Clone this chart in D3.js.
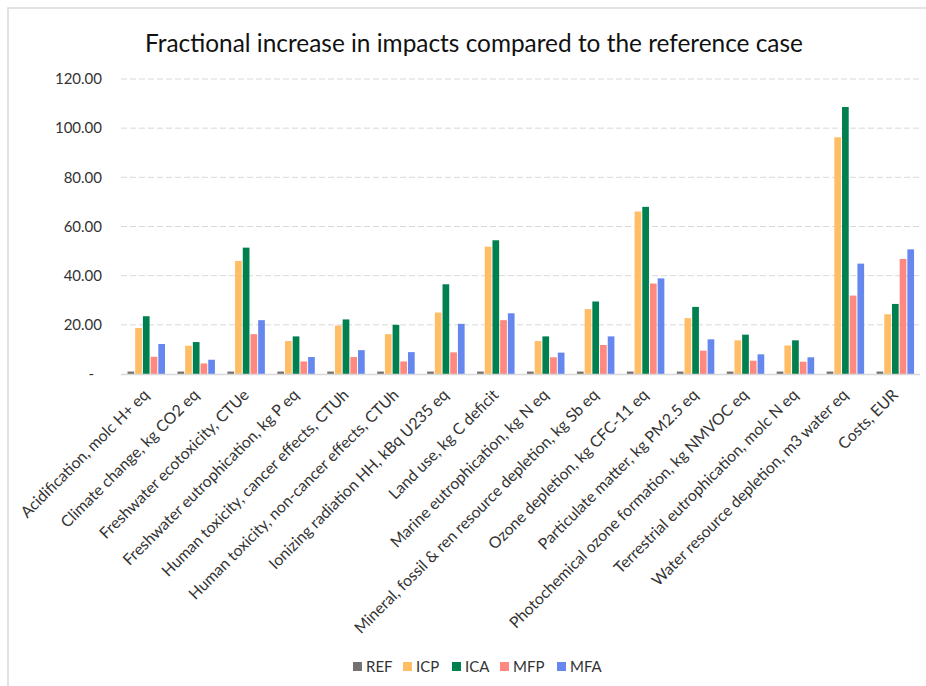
<!DOCTYPE html>
<html>
<head>
<meta charset="utf-8">
<script src="https://cdn.jsdelivr.net/npm/d3@7"></script>
<style>
	body { margin: 0; background: #fff; }
	text { font-family: Lato, "Open Sans", sans-serif; fill: #404040; }
</style>
</head>
<body>
<div id="chart"></div>
<script>

///////////////////////////////////////////////////////////////////////////
//////////////////////////////// Data /////////////////////////////////////
///////////////////////////////////////////////////////////////////////////

var categories = [
	"Acidification, molc H+ eq",
	"Climate change, kg CO2 eq",
	"Freshwater ecotoxicity, CTUe",
	"Freshwater eutrophication, kg P eq",
	"Human toxicity, cancer effects, CTUh",
	"Human toxicity, non-cancer effects, CTUh",
	"Ionizing radiation HH, kBq U235 eq",
	"Land use, kg C deficit",
	"Marine eutrophication, kg N eq",
	"Mineral, fossil & ren resource depletion, kg Sb eq",
	"Ozone depletion, kg CFC-11 eq",
	"Particulate matter, kg PM2.5 eq",
	"Photochemical ozone formation, kg NMVOC eq",
	"Terrestrial eutrophication, molc N eq",
	"Water resource depletion, m3 water eq",
	"Costs, EUR"
];

var seriesNames = ["REF", "ICP", "ICA", "MFP", "MFA"];

var REF = [1, 1, 1, 1, 1, 1, 1, 1, 1, 1, 1, 1, 1, 1, 1, 1];
var ICP = [18.7, 11.5, 46.0, 13.4, 19.7, 16.2, 25.0, 51.8, 13.4, 26.4, 66.1, 22.7, 13.7, 11.6, 96.3, 24.3];
var ICA = [23.5, 13.0, 51.4, 15.3, 22.2, 20.0, 36.5, 54.4, 15.3, 29.5, 68.0, 27.3, 16.0, 13.7, 108.6, 28.5];
var MFP = [7.0, 4.3, 16.2, 5.1, 6.9, 5.1, 8.8, 21.9, 6.8, 11.8, 36.8, 9.5, 5.4, 5.0, 31.9, 46.8];
var MFA = [12.2, 5.8, 21.9, 6.9, 9.7, 8.9, 20.4, 24.7, 8.7, 15.3, 38.9, 14.1, 8.0, 6.8, 44.9, 50.7];

var yTicks = [0, 20, 40, 60, 80, 100, 120];

var colors = ["#767171", "#ffbd66", "#00804f", "#ff8880", "#6688ee"];

var seriesValues = [REF, ICP, ICA, MFP, MFA];

///////////////////////////////////////////////////////////////////////////
//////////////////////////// Set up the svg ///////////////////////////////
///////////////////////////////////////////////////////////////////////////

var W = 926, H = 686;

var svg = d3.select("#chart").append("svg")
	.attr("width", W)
	.attr("height", H);

//Chart frame (runs off the right and bottom of the picture)
svg.append("rect")
	.attr("x", 8)
	.attr("y", 8)
	.attr("width", 940)
	.attr("height", 700)
	.style("fill", "#fff")
	.style("stroke", "#d9d9d9")
	.style("stroke-width", 1.5);

var plot = { left: 121, right: 920, top: 79, bottom: 374 };

var x0 = d3.scaleBand()
	.domain(categories)
	.range([plot.left, plot.right])
	.padding(0);

var x1 = d3.scaleBand()
	.domain(seriesNames)
	.range([6.5, 44])
	.paddingInner(0.13);

var y = d3.scaleLinear()
	.domain([0, 120])
	.range([plot.bottom, plot.top]);

///////////////////////////////////////////////////////////////////////////
//////////////////////////////// Title ////////////////////////////////////
///////////////////////////////////////////////////////////////////////////

svg.append("text")
	.attr("x", 474)
	.attr("y", 52)
	.style("text-anchor", "middle")
	.style("font-size", "24.4px")
	.style("fill", "#111")
	.text("Fractional increase in impacts compared to the reference case");

///////////////////////////////////////////////////////////////////////////
//////////////////////////////// Axes /////////////////////////////////////
///////////////////////////////////////////////////////////////////////////

//Gridlines
svg.append("g")
	.selectAll("line")
	.data(yTicks.filter(function(d) { return d > 0; }))
	.enter().append("line")
	.attr("x1", plot.left)
	.attr("x2", plot.right)
	.attr("y1", function(d) { return y(d); })
	.attr("y2", function(d) { return y(d); })
	.style("stroke", "#d9d9d9")
	.style("stroke-width", 1)
	.style("stroke-dasharray", "6,3");

//Y tick labels (accounting format: zero shown as a dash)
svg.append("g")
	.selectAll("text")
	.data(yTicks)
	.enter().append("text")
	.attr("x", function(d) { return d === 0 ? 94 : 102; })
	.attr("y", function(d) { return y(d); })
	.attr("dy", "0.35em")
	.style("text-anchor", "end")
	.style("font-size", "15px")
	.style("fill", "#333")
	.text(function(d) { return d === 0 ? "-" : d3.format(".2f")(d); });

///////////////////////////////////////////////////////////////////////////
//////////////////////////////// Bars /////////////////////////////////////
///////////////////////////////////////////////////////////////////////////

var groups = svg.append("g")
	.selectAll("g")
	.data(categories)
	.enter().append("g")
	.attr("transform", function(d) { return "translate(" + x0(d) + ",0)"; });

groups.selectAll("rect")
	.data(function(d, i) {
		return seriesNames.map(function(s, j) { return { series: s, value: seriesValues[j][i], j: j }; });
	})
	.enter().append("rect")
	.attr("x", function(d) { return x1(d.series); })
	.attr("width", x1.bandwidth())
	.attr("y", function(d) { return y(d.value); })
	.attr("height", function(d) { return y(0) - y(d.value); })
	.style("fill", function(d) { return colors[d.j]; });

//Baseline
svg.append("line")
	.attr("x1", plot.left)
	.attr("x2", plot.right)
	.attr("y1", y(0) + 0.5)
	.attr("y2", y(0) + 0.5)
	.style("stroke", "#d9d9d9")
	.style("stroke-width", 1.5);

//Category labels, rotated
svg.append("g")
	.selectAll("text")
	.data(categories)
	.enter().append("text")
	.attr("transform", function(d) {
		return "translate(" + (x0(d) + x0.bandwidth()/2 + 4) + "," + (plot.bottom + 22) + ") rotate(-45)";
	})
	.style("text-anchor", "end")
	.style("font-size", "15.8px")
	.style("fill", "#333")
	.text(function(d) { return d; });

///////////////////////////////////////////////////////////////////////////
/////////////////////////////// Legend ////////////////////////////////////
///////////////////////////////////////////////////////////////////////////

var legendX = [353, 403, 452, 500, 557];

var legend = svg.append("g")
	.selectAll("g")
	.data(seriesNames)
	.enter().append("g")
	.attr("transform", function(d, i) { return "translate(" + legendX[i] + ",662)"; });

legend.append("rect")
	.attr("width", 9)
	.attr("height", 9)
	.style("fill", function(d, i) { return colors[i]; });

legend.append("text")
	.attr("x", 13)
	.attr("y", 10)
	.style("font-size", "15px")
	.style("fill", "#333")
	.text(function(d) { return d; });

</script>
</body>
</html>
